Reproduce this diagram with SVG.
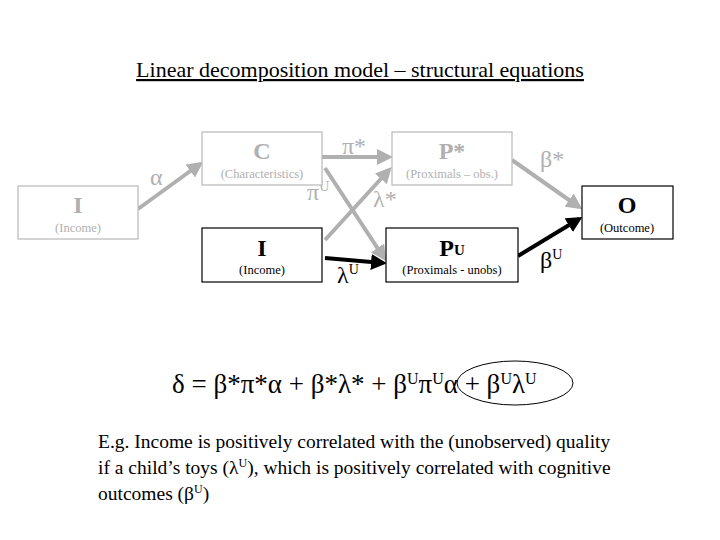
<svg xmlns="http://www.w3.org/2000/svg" width="720" height="540" viewBox="0 0 720 540">
<style>
text{font-family:"Liberation Serif","DejaVu Serif",serif}
.g rect{fill:#fff;stroke:#b8b8b8;stroke-width:1.2}
.k rect{fill:#fff;stroke:#000;stroke-width:1.2}
.big{font-size:24px;font-weight:bold;text-anchor:middle}
.sub{font-size:12.5px;text-anchor:middle;font-family:"Liberation Serif",serif}
.g text{fill:#b0b0b0}
.lbl{font-size:24px}
.gl{fill:#b0b0b0}
.ga{stroke:#b0b0b0;stroke-width:4;fill:none;marker-end:url(#mg)}
.ka{stroke:#000;stroke-width:4;fill:none;marker-end:url(#mk)}
</style>
<defs>
<marker id="mg" markerWidth="4" markerHeight="4" refX="3" refY="2" orient="auto"><path d="M0,0L4,2L0,4z" fill="#b0b0b0"/></marker>
<marker id="mk" markerWidth="4" markerHeight="4" refX="3" refY="2" orient="auto"><path d="M0,0L4,2L0,4z" fill="#000"/></marker>
</defs>
<text x="360" y="77" font-size="22" text-anchor="middle" text-decoration="underline">Linear decomposition model – structural equations</text>
<g id="connectors">
<line class="ga" x1="138" y1="209" x2="200" y2="164"/>
<line class="ga" x1="322" y1="157" x2="389" y2="157"/>
<line class="ga" x1="325" y1="168" x2="384" y2="258"/>
<line class="ga" x1="325" y1="240" x2="389" y2="170"/>
<line class="ka" x1="325" y1="258" x2="383" y2="263"/>
<line class="ga" x1="512" y1="160" x2="579" y2="207"/>
<line class="ka" x1="518" y1="256" x2="579" y2="219"/>
<text class="lbl gl" x="150" y="185">α</text>
<text class="lbl gl" x="342" y="154">π*</text>
<text class="lbl gl" x="307" y="200">π<tspan font-size="14" dy="-9">U</tspan></text>
<text class="lbl gl" x="373" y="207">λ*</text>
<text class="lbl" x="337" y="283">λ<tspan font-size="14" dy="-9">U</tspan></text>
<text class="lbl" x="540" y="167" fill="#b0b0b0">β*</text>
<text class="lbl" x="540" y="268">β<tspan font-size="14" dy="-9">U</tspan></text>
</g>
<g id="I_left" class="g"><rect x="18" y="186" width="120" height="53"/><text class="big" x="78" y="213">I</text><text class="sub" x="78" y="232">(Income)</text></g>
<g id="C" class="g"><rect x="202" y="132" width="120" height="53"/><text class="big" x="262" y="159">C</text><text class="sub" x="262" y="178">(Characteristics)</text></g>
<g id="Pstar" class="g"><rect x="392" y="132" width="120" height="53"/><text class="big" x="452" y="159">P*</text><text class="sub" x="452" y="178">(Proximals – obs.)</text></g>
<g id="I_low" class="k"><rect x="202" y="228" width="120" height="54"/><text class="big" x="262" y="256">I</text><text class="sub" x="262" y="274">(Income)</text></g>
<g id="PU" class="k"><rect x="386" y="228" width="132" height="54"/><text class="big" x="452" y="256">P<tspan font-size="15" dy="-1">U</tspan></text><text class="sub" x="452" y="274">(Proximals - unobs)</text></g>
<g id="O" class="k"><rect x="582" y="186" width="91" height="53"/><text class="big" x="627" y="213">O</text><text class="sub" x="627" y="232">(Outcome)</text></g>
<g id="equation">
<text x="172" y="393" font-size="27">δ  = β*π*α + β*λ* + β<tspan font-size="16" dy="-9">U</tspan><tspan dy="9">π</tspan><tspan font-size="16" dy="-9">U</tspan><tspan dy="9">α + β</tspan><tspan font-size="16" dy="-9">U</tspan><tspan dy="9">λ</tspan><tspan font-size="16" dy="-9">U</tspan></text>
<ellipse cx="515" cy="383" rx="58" ry="22" fill="none" stroke="#000" stroke-width="1"/>
</g>
<g id="note" font-size="19.5">
<text x="98" y="448">E.g. Income is positively correlated with the (unobserved) quality</text>
<text x="98" y="474">if a child’s toys (λ<tspan font-size="12" dy="-7">U</tspan><tspan dy="7">), which is positively correlated with cognitive</tspan></text>
<text x="98" y="500">outcomes (β<tspan font-size="12" dy="-7">U</tspan><tspan dy="7">)</tspan></text>
</g>
</svg>
